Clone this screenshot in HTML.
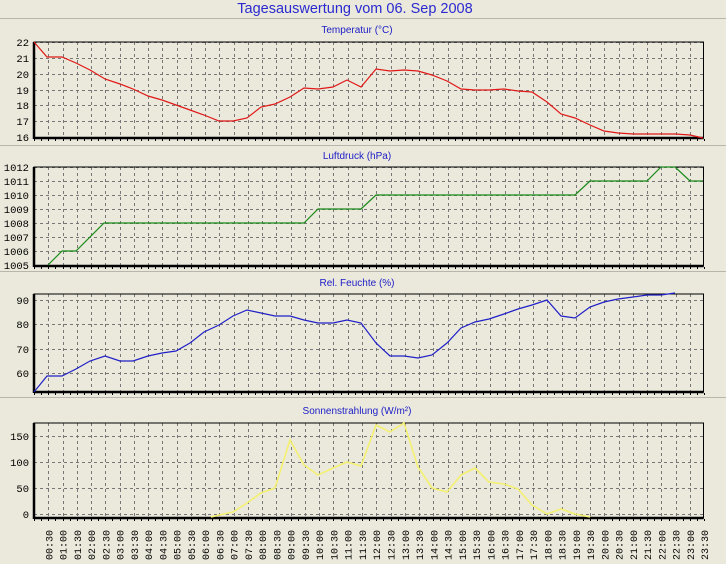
<!DOCTYPE html><html><head><style>
body{margin:0;background:#ebe9db;width:726px;height:564px;overflow:hidden}
svg{display:block}
text{font-family:"Liberation Sans",sans-serif}
.t{fill:#1c1cc8;font-size:10px}
.y{font-family:"Liberation Mono",monospace;font-size:10.5px;fill:#000;text-anchor:end}
.x{font-family:"Liberation Mono",monospace;font-size:10px;fill:#000}
</style></head><body>
<svg width="726" height="564" xmlns="http://www.w3.org/2000/svg">
<rect width="726" height="564" fill="#ebe9db"/>
<text x="355" y="13" text-anchor="middle" style="font-size:14.5px;fill:#2a2ad0">Tagesauswertung vom 06. Sep 2008</text>
<g stroke="#b8b6aa" stroke-width="1">
<line x1="0" y1="18.5" x2="726" y2="18.5"/><line x1="0" y1="145.5" x2="726" y2="145.5"/>
<line x1="0" y1="271.5" x2="726" y2="271.5"/><line x1="0" y1="397.5" x2="726" y2="397.5"/>
</g>
<text class="t" x="357" y="33" text-anchor="middle">Temperatur (°C)</text>
<text class="t" x="357" y="159" text-anchor="middle">Luftdruck (hPa)</text>
<text class="t" x="357" y="286" text-anchor="middle">Rel. Feuchte (%)</text>
<text class="t" x="357" y="414" text-anchor="middle">Sonnenstrahlung (W/m²)</text>
<g id="grid" stroke="#777" stroke-dasharray="3,3" stroke-width="1"></g>
<g id="axes"></g>
<polyline fill="none" stroke="#e01818" stroke-width="1.2" points="34,42 47,57 62,57 76,63 90,70 105,79 120,84 133,89 148,96 162,100 176,105 190,110 204,115 219,121 233,121 247,118 261,107 275,104 290,97 304,88 318,89 333,87 347,80 361,87 376,69 390,71 404,70 418,71 432,75 447,81 461,89 475,90 489,90 504,89 518,91 532,92 547,102 561,114 575,118 590,125 604,131 618,133 633,134 647,134 661,134 675,134 690,135 703,138"/>
<polyline fill="none" stroke="#1a8a1a" stroke-width="1.2" points="48,265 62,251 76,251 104,223 304,223 318,209 361,209 376,195 575,195 590,181 647,181 661,167 675,167 690,181 703,181"/>
<polyline fill="none" stroke="#2020c8" stroke-width="1.2" points="34,392 47,376 62,376 76,369 90,361 105,356 120,361 133,361 148,356 162,353 176,351 190,343 204,332 219,325 233,316 247,310 261,313 275,316 290,316 304,320 318,323 333,323 347,320 361,323 376,343 390,356 404,356 418,358 432,355 447,343 461,328 475,322 489,319 504,314 518,309 532,305 547,300 561,316 575,318 590,307 604,302 618,299 633,297 647,295 661,295 675,293"/>
<polyline fill="none" stroke="#f4f070" stroke-width="1.6" points="211,517 219,515 233,512 247,503 261,493 275,488 290,440 304,465 318,475 333,468 347,462 361,466 376,425 390,432 404,423 418,467 432,488 447,492 461,475 475,468 489,482 504,484 518,489 532,505 547,514 561,509 575,514 590,517"/>
<g id="lbl"></g>
</svg>
<script>
var NS="http://www.w3.org/2000/svg";
function el(p,n,a,t){var e=document.createElementNS(NS,n);for(var k in a)e.setAttribute(k,a[k]);if(t!=null)e.textContent=t;document.getElementById(p).appendChild(e);return e;}
var panels=[{top:42,bot:138,ys:[[22,42],[21,58],[20,74],[19,90],[18,105],[17,121],[16,137]]},
{top:167,bot:266,ys:[[1012,167],[1011,181],[1010,195],[1009,209],[1008,223],[1007,237],[1006,251],[1005,265]]},
{top:294,bot:392,ys:[[90,300],[80,324],[70,349],[60,373]]},
{top:423,bot:518,ys:[[150,436],[100,462],[50,488],[0,514]]}];
var L=34,R=703.5,dx=14.26;
panels.forEach(function(p){
 for(var i=1;i<=46;i++){var x=Math.round(L+i*dx)+.5;el("grid","line",{x1:x,y1:p.top,x2:x,y2:p.bot});}
 p.ys.forEach(function(y){el("grid","line",{x1:L,y1:y[1]+.5,x2:R,y2:y[1]+.5});el("lbl","text",{"class":"y",x:29,y:y[1]+4},y[0]);});
 el("axes","rect",{x:L,y:p.top,width:R-L,height:p.bot-p.top,fill:"none",stroke:"#000","stroke-width":1});
 el("axes","line",{x1:L,y1:p.top,x2:L,y2:p.bot+1,stroke:"#000","stroke-width":2.5});
 el("axes","line",{x1:L,y1:p.bot,x2:R,y2:p.bot,stroke:"#000","stroke-width":2.5});
 for(var i=0;i<=94;i++){var x=Math.round(L+i*dx/2)+.5;el("axes","line",{x1:x,y1:p.bot+1,x2:x,y2:p.bot+3,stroke:"#000"});}
});
for(var i=1;i<=47;i++){var m=i*30,h=Math.floor(m/60),mm=m%60;var s=(h<10?"0":"")+h+":"+(mm?"30":"00");
 var x=L+i*dx+4;el("lbl","text",{"class":"x",transform:"translate("+x+",560) rotate(-90)"},s);}
</script>
</body></html>
